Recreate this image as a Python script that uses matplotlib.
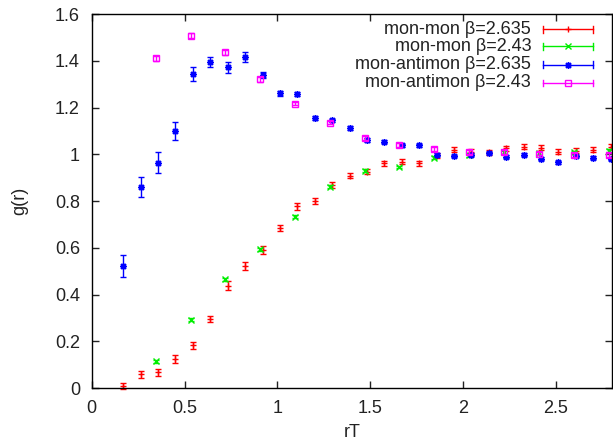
import matplotlib
matplotlib.use("Agg")
import matplotlib.pyplot as plt
from matplotlib.ticker import FormatStrFormatter, MultipleLocator
from matplotlib.lines import Line2D

plt.rcParams['font.family'] = ['Liberation Sans', 'DejaVu Sans']

# beta = 2.635 data (mon-mon and mon-antimon share the same r values)
r_2635 = [0.170, 0.264, 0.357, 0.451, 0.545, 0.638, 0.732, 0.826, 0.920, 1.013,
          1.107, 1.201, 1.294, 1.388, 1.482, 1.576, 1.669, 1.763, 1.857, 1.950,
          2.044, 2.138, 2.232, 2.325, 2.419, 2.513, 2.606, 2.700, 2.794]
g_mm_2635 = [0.010, 0.059, 0.067, 0.124, 0.184, 0.294, 0.438, 0.523, 0.590, 0.685,
             0.777, 0.800, 0.870, 0.909, 0.926, 0.962, 0.968, 0.962, 0.996, 1.020,
             1.012, 1.009, 1.026, 1.033, 1.028, 1.012, 1.016, 1.020, 1.033]
e_mm_2635 = [0.012, 0.016, 0.016, 0.017, 0.015, 0.013, 0.020, 0.016, 0.016, 0.014,
             0.015, 0.012, 0.012, 0.010, 0.010, 0.010, 0.010, 0.010, 0.010, 0.010,
             0.010, 0.010, 0.010, 0.010, 0.010, 0.010, 0.010, 0.010, 0.010]
g_ma_2635 = [0.522, 0.861, 0.965, 1.099, 1.345, 1.395, 1.372, 1.416, 1.339, 1.261,
             1.258, 1.154, 1.145, 1.114, 1.061, 1.054, 1.039, 1.038, 0.999, 0.993,
             0.999, 1.006, 0.989, 0.999, 0.982, 0.966, 0.993, 0.985, 0.982]
e_ma_2635 = [0.047, 0.043, 0.043, 0.039, 0.030, 0.020, 0.025, 0.020, 0.012, 0.010,
             0.010, 0.008, 0.008, 0.008, 0.007, 0.006, 0.006, 0.006, 0.006, 0.006,
             0.006, 0.006, 0.006, 0.006, 0.006, 0.006, 0.006, 0.006, 0.006]

# beta = 2.43 data
r_243 = [0.344, 0.532, 0.719, 0.907, 1.095, 1.282, 1.470, 1.657, 1.845, 2.033,
         2.220, 2.408, 2.595, 2.783]
g_mm_243 = [0.114, 0.293, 0.466, 0.594, 0.734, 0.861, 0.930, 0.946, 0.985, 0.996,
            1.008, 1.005, 1.008, 1.016]
e_mm_243 = [0.006] * 14
g_ma_243 = [1.410, 1.507, 1.436, 1.321, 1.217, 1.136, 1.071, 1.039, 1.023, 1.011,
            1.009, 1.003, 0.996, 0.998]
e_ma_243 = [0.012, 0.010, 0.010, 0.010, 0.008, 0.008, 0.008, 0.008, 0.008, 0.008,
            0.008, 0.008, 0.008, 0.008]

labels = ["mon-mon β=2.635", "mon-mon β=2.43",
          "mon-antimon β=2.635", "mon-antimon β=2.43"]
colors = ["#ff0000", "#00ee00", "#0000ff", "#ff00ff"]
# gnuplot point types: plus, cross, asterisk, open box
markers = ["+", "x", (8, 2, 0), "s"]
msizes = [5, 5, 5, 4.5]

fig = plt.figure(figsize=(6.13, 4.40), dpi=100)
ax = fig.add_axes([0.1496, 0.118, 0.8484, 0.850])

series = [(r_2635, g_mm_2635, e_mm_2635),
          (r_243, g_mm_243, e_mm_243),
          (r_2635, g_ma_2635, e_ma_2635),
          (r_243, g_ma_243, e_ma_243)]

for (x, y, e), c, m, ms in zip(series, colors, markers, msizes):
    mfc = "none" if m == "s" else c
    ax.errorbar(x, y, yerr=e, fmt='none', ecolor=c, elinewidth=1.0,
                capsize=2.5, capthick=1.0, clip_on=False)
    ax.plot(x, y, linestyle='none', marker=m, color=c, markersize=ms,
            markerfacecolor=mfc, markeredgewidth=1.0, clip_on=False)

ax.set_xlim(0, 2.8)
ax.set_ylim(0, 1.6)
ax.xaxis.set_major_locator(MultipleLocator(0.5))
ax.yaxis.set_major_locator(MultipleLocator(0.2))
ax.xaxis.set_major_formatter(FormatStrFormatter('%g'))
ax.yaxis.set_major_formatter(FormatStrFormatter('%g'))
ax.tick_params(direction='in', top=True, right=True, length=5, width=1,
               labelsize=13, pad=8.5, colors='#222222')
for s in ax.spines.values():
    s.set_linewidth(1)
    s.set_color('black')

ax.set_xlabel("rT", fontsize=13, labelpad=5, color='#222222')
ax.set_ylabel("g(r)", fontsize=13, labelpad=19, color='#222222')

# gnuplot-style key: right-aligned text, horizontal error-bar sample
row_y = [0.959, 0.914, 0.865, 0.816]
x_text, x0, x1 = 0.845, 0.867, 0.963
for ry, lab, c, m, ms in zip(row_y, labels, colors, markers, msizes):
    ax.text(x_text, ry, lab, transform=ax.transAxes, ha='right', va='center',
            fontsize=13, color='#222222')
    ax.add_line(Line2D([x0, x1], [ry, ry], transform=ax.transAxes, color=c, lw=1))
    for xe in (x0, x1):
        ax.add_line(Line2D([xe, xe], [ry - 0.009, ry + 0.009], transform=ax.transAxes,
                           color=c, lw=1))
    mfc = "none" if m == "s" else c
    ax.add_line(Line2D([(x0 + x1) / 2], [ry], transform=ax.transAxes, color=c,
                       marker=m, markersize=ms, markerfacecolor=mfc,
                       markeredgewidth=1.0))

fig.savefig("out.png", dpi=100)
